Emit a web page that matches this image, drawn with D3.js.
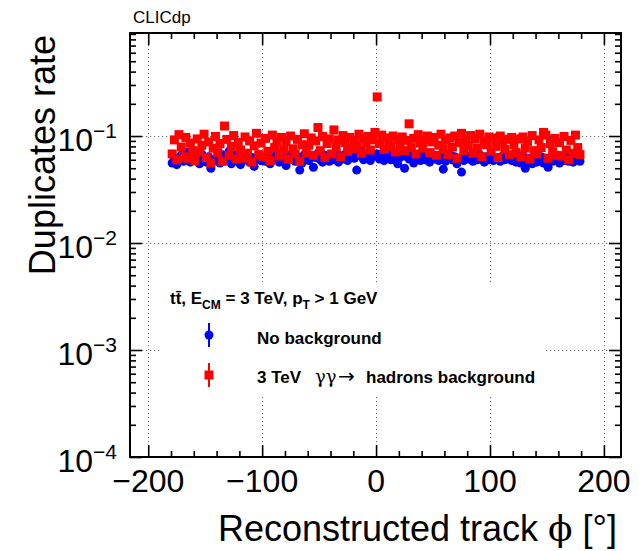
<!DOCTYPE html>
<html><head><meta charset="utf-8">
<script src="https://cdn.jsdelivr.net/npm/d3@7"></script>
<style>
body{margin:0;background:#fff}
svg{display:block}
text{font-family:"Liberation Sans",Arial,Helvetica,sans-serif;fill:#000}
</style>
</head><body>
<svg id="c" width="639" height="551"></svg>
<script>
// ---- data ----
const phiStart = -180;   // first bin low edge (degrees)
const phiBin = 2;        // bin width (degrees)
const blueValues = [
0.056,0.061,0.054,0.063,0.066,0.058,0.060,0.071,0.057,0.062,
0.059,0.065,0.055,0.068,0.061,0.057,0.064,0.050,0.058,0.060,
0.063,0.056,0.067,0.059,0.062,0.072,0.055,0.061,0.066,0.058,
0.054,0.064,0.060,0.069,0.057,0.063,0.052,0.061,0.067,0.059,
0.062,0.058,0.066,0.055,0.063,0.060,0.070,0.057,0.064,0.061,
0.053,0.066,0.061,0.068,0.058,0.064,0.048,0.056,0.067,0.062,
0.059,0.065,0.051,0.063,0.069,0.060,0.057,0.066,0.062,0.058,
0.064,0.060,0.071,0.057,0.065,0.061,0.068,0.059,0.063,0.070,
0.062,0.048,0.066,0.073,0.060,0.067,0.063,0.059,0.069,0.065,
0.068,0.061,0.066,0.059,0.064,0.072,0.060,0.065,0.062,0.055,
0.063,0.067,0.050,0.064,0.061,0.069,0.056,0.062,0.066,0.059,
0.065,0.060,0.063,0.057,0.068,0.061,0.064,0.059,0.066,0.049,
0.058,0.063,0.067,0.060,0.064,0.055,0.062,0.046,0.059,0.063,
0.061,0.065,0.058,0.063,0.060,0.067,0.062,0.057,0.064,0.060,
0.066,0.059,0.063,0.061,0.058,0.065,0.060,0.064,0.062,0.059,
0.063,0.057,0.061,0.056,0.066,0.050,0.058,0.062,0.055,0.061,
0.057,0.060,0.064,0.056,0.062,0.051,0.092,0.058,0.061,0.063,
0.056,0.062,0.059,0.064,0.058,0.061,0.057,0.063,0.060,0.058];
const redValues = [
0.068,0.092,0.060,0.103,0.079,0.064,0.097,0.062,0.086,0.073,
0.059,0.094,0.071,0.082,0.104,0.063,0.088,0.056,0.077,0.099,
0.070,0.085,0.058,0.124,0.093,0.066,0.080,0.101,0.061,0.087,
0.074,0.062,0.098,0.069,0.090,0.057,0.081,0.106,0.067,0.086,
0.064,0.095,0.072,0.059,0.102,0.078,0.088,0.065,0.097,0.074,
0.089,0.061,0.100,0.076,0.068,0.093,0.058,0.083,0.105,0.070,
0.082,0.096,0.066,0.090,0.120,0.073,0.099,0.063,0.085,0.094,
0.068,0.114,0.079,0.092,0.064,0.101,0.087,0.072,0.097,0.076,
0.090,0.080,0.104,0.069,0.095,0.084,0.099,0.074,0.092,0.108,
0.232,0.085,0.102,0.075,0.096,0.088,0.079,0.100,0.071,0.093,
0.084,0.098,0.073,0.091,0.130,0.078,0.095,0.068,0.103,0.086,
0.077,0.092,0.100,0.070,0.088,0.097,0.066,0.082,0.104,0.075,
0.091,0.067,0.096,0.079,0.100,0.062,0.087,0.106,0.073,0.089,
0.081,0.101,0.069,0.094,0.077,0.104,0.064,0.090,0.083,0.098,
0.072,0.096,0.080,0.063,0.100,0.086,0.075,0.093,0.067,0.097,
0.083,0.070,0.094,0.064,0.098,0.077,0.089,0.061,0.101,0.073,
0.068,0.092,0.078,0.108,0.102,0.062,0.085,0.071,0.095,0.066,
0.087,0.065,0.099,0.074,0.060,0.091,0.069,0.102,0.078,0.067];
const xTickValues = [-200,-100,0,100,200];
const xTickLabels = ["\u2212200","\u2212100","0","100","200"];
const yTickValues = [1e-4,1e-3,1e-2,1e-1];
const yTickExponents = ["\u22124","\u22123","\u22122","\u22121"];
const xDomain = [-216, 215];
const yDomain = [1e-4, 0.918];

// ---- layout ----
const L = 130, R = 621, T = 33, B = 457;
const svg = d3.select("#c");
const x = d3.scaleLinear().domain(xDomain).range([L, R]);
const y = d3.scaleLog().domain(yDomain).range([B, T]);

const phi = blueValues.map((_, i) => phiStart + phiBin * (i + 0.5));

// grid
const grid = svg.append("g").attr("stroke", "#6a6a6a").attr("stroke-width", 1)
  .attr("stroke-dasharray", "1.2,2.8");
grid.selectAll("line.gx").data(xTickValues).join("line")
  .attr("x1", d => Math.round(x(d)) + 0.5).attr("x2", d => Math.round(x(d)) + 0.5)
  .attr("y1", T).attr("y2", B);
grid.selectAll("line.gy").data(yTickValues).join("line")
  .attr("y1", d => Math.round(y(d)) + 0.5).attr("y2", d => Math.round(y(d)) + 0.5)
  .attr("x1", L).attr("x2", R);

// points
const pts = svg.append("g");
pts.selectAll("circle").data(blueValues).join("circle")
  .attr("cx", (d, i) => x(phi[i])).attr("cy", d => y(d)).attr("r", 4.5)
  .attr("fill", "#0000ff");
const sq = 9;
pts.selectAll("rect").data(redValues).join("rect")
  .attr("x", (d, i) => x(phi[i]) - sq / 2).attr("y", d => y(d) - sq / 2)
  .attr("width", sq).attr("height", sq).attr("fill", "#ff0000");

// legend
const lg = svg.append("g");
lg.append("rect").attr("x", 160).attr("y", 284).attr("width", 384).attr("height", 112).attr("fill", "#fff");
const lt = lg.append("text").attr("x", 170).attr("y", 304).attr("font-size", 17).attr("font-weight", "bold");
lt.append("tspan").text("tt\u0304, E");
lt.append("tspan").attr("font-size", 12).attr("dy", 5).text("CM");
lt.append("tspan").attr("dy", -5).text(" = 3 TeV, p");
lt.append("tspan").attr("font-size", 12).attr("dy", 5).text("T");
lt.append("tspan").attr("dy", -5).text(" > 1 GeV");

const mx = 209;
lg.append("line").attr("x1", mx).attr("x2", mx).attr("y1", 323).attr("y2", 347).attr("stroke", "#0000ff").attr("stroke-width", 2);
lg.append("circle").attr("cx", mx).attr("cy", 335).attr("r", 4.5).attr("fill", "#0000ff");
lg.append("text").attr("x", 257).attr("y", 344).attr("font-size", 17).attr("font-weight", "bold").text("No background");

lg.append("line").attr("x1", mx).attr("x2", mx).attr("y1", 363).attr("y2", 387).attr("stroke", "#ff0000").attr("stroke-width", 2);
lg.append("rect").attr("x", mx - 4.5).attr("y", 375 - 4.5).attr("width", 9).attr("height", 9).attr("fill", "#ff0000");
const l2 = lg.append("text").attr("x", 257).attr("y", 383).attr("font-size", 17).attr("font-weight", "bold");
l2.append("tspan").text("3 TeV");
l2.append("tspan").attr("x", 315).attr("font-weight", "normal").attr("font-family", "DejaVu Serif, serif").attr("font-size", 18).text("\u03b3\u03b3");
l2.append("tspan").attr("x", 338).attr("font-weight", "normal").attr("font-family", "DejaVu Sans, sans-serif").attr("font-size", 20).text("\u2192");
l2.append("tspan").attr("x", 366).text("hadrons background");

// axes ticks (inward, ROOT style)
const xMinor = d3.range(-200, 201, 20).filter(v => !xTickValues.includes(v));
const yMinor = [];
yTickValues.forEach(dec => { for (let k = 2; k <= 9; k++) { const v = dec * k; if (v < yDomain[1]) yMinor.push(v); } });

function styleAxis(g) {
  g.select(".domain").remove();
  g.selectAll(".tick line").attr("stroke", "#000").attr("stroke-width", 1.6);
  g.selectAll(".tick text").remove();
}
svg.append("g").attr("transform", `translate(0,${B})`).call(d3.axisBottom(x).tickValues(xTickValues).tickSize(-12)).call(styleAxis);
svg.append("g").attr("transform", `translate(0,${B})`).call(d3.axisBottom(x).tickValues(xMinor).tickSize(-6)).call(styleAxis);
svg.append("g").attr("transform", `translate(0,${T})`).call(d3.axisTop(x).tickValues(xTickValues).tickSize(-12)).call(styleAxis);
svg.append("g").attr("transform", `translate(0,${T})`).call(d3.axisTop(x).tickValues(xMinor).tickSize(-6)).call(styleAxis);
svg.append("g").attr("transform", `translate(${L},0)`).call(d3.axisLeft(y).tickValues(yTickValues).tickSize(-12)).call(styleAxis);
svg.append("g").attr("transform", `translate(${L},0)`).call(d3.axisLeft(y).tickValues(yMinor).tickSize(-6)).call(styleAxis);
svg.append("g").attr("transform", `translate(${R},0)`).call(d3.axisRight(y).tickValues(yTickValues).tickSize(-12)).call(styleAxis);
svg.append("g").attr("transform", `translate(${R},0)`).call(d3.axisRight(y).tickValues(yMinor).tickSize(-6)).call(styleAxis);

// frame
svg.append("rect").attr("x", L).attr("y", T).attr("width", R - L).attr("height", B - T)
  .attr("fill", "none").attr("stroke", "#000").attr("stroke-width", 2);

// tick labels
svg.append("g").selectAll("text").data(xTickValues).join("text")
  .attr("x", d => x(d)).attr("y", 492).attr("text-anchor", "middle").attr("font-size", 32)
  .text((d, i) => xTickLabels[i]);
const yl = svg.append("g").selectAll("text").data(yTickValues).join("text")
  .attr("x", 117).attr("y", d => y(d) + 15).attr("text-anchor", "end").attr("font-size", 32);
yl.append("tspan").text("10");
yl.append("tspan").attr("font-size", 21).attr("dy", -13).text((d, i) => yTickExponents[i]);

// titles
const xt = svg.append("text").attr("x", 617).attr("y", 541).attr("text-anchor", "end").attr("font-size", 36);
xt.append("tspan").text("Reconstructed track ");
xt.append("tspan").attr("font-family", "DejaVu Serif, serif").text("\u03d5");
xt.append("tspan").text(" [\u00b0]");
svg.append("text").attr("transform", "translate(55,35) rotate(-90)").attr("text-anchor", "end")
  .attr("font-size", 36).text("Duplicates rate");
svg.append("text").attr("x", 133).attr("y", 23).attr("font-size", 17).text("CLICdp");
</script>
</body></html>
